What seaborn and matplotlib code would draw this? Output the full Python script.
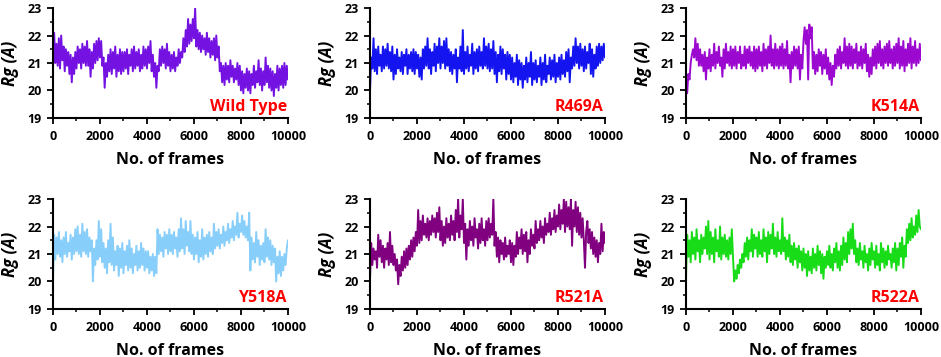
import numpy as np
import pandas as pd
import matplotlib
matplotlib.use("Agg")
import matplotlib.pyplot as plt
from matplotlib.ticker import MultipleLocator
import seaborn as sns

# ---------------- data (Rg values, one every ~50 frames) ----------------
labels = ["Wild Type", "R469A", "K514A", "Y518A", "R521A", "R522A"]
colors = ["#7412E2", "#1414F0", "#9B08D0", "#87CEFA", "#800080", "#18DC18"]

wild_type = [
    20.8, 22.1, 21.0, 21.7, 20.9, 21.9, 20.8, 22.0, 21.1, 21.6, 20.7, 21.5, 20.9, 21.4, 20.6, 21.3, 20.3, 21.2, 20.6, 21.4,
    20.8, 21.6, 21.0, 21.5, 20.8, 21.7, 21.0, 21.6, 20.9, 21.8, 20.9, 21.5, 20.5, 21.4, 20.8, 21.7, 21.0, 21.8, 21.1, 21.9,
    21.2, 21.8, 20.9, 21.2, 20.1, 21.0, 20.5, 21.3, 20.7, 21.5, 20.6, 21.4, 20.8, 21.6, 20.5, 21.3, 20.7, 21.5, 20.6, 21.4,
    20.7, 21.4, 20.8, 21.5, 20.6, 21.3, 20.9, 21.5, 20.7, 21.6, 20.8, 21.4, 20.9, 21.5, 20.7, 21.3, 20.8, 21.6, 20.9, 21.5,
    20.8, 21.6, 21.0, 21.8, 20.7, 21.3, 20.5, 21.0, 20.1, 20.9, 20.7, 21.5, 20.9, 21.6, 21.0, 21.5, 20.8, 21.7, 20.9, 21.4,
    20.7, 21.3, 20.8, 21.4, 20.7, 21.2, 20.9, 21.5, 21.0, 21.4, 21.2, 21.9, 21.4, 22.2, 21.6, 22.6, 21.7, 22.4, 21.8, 22.6,
    21.9, 23.0, 21.6, 22.2, 21.5, 22.1, 21.4, 22.0, 21.5, 21.9, 21.3, 22.1, 21.4, 21.9, 21.2, 21.8, 21.3, 21.9, 21.1, 22.0,
    21.2, 21.6, 20.7, 21.0, 20.3, 20.9, 20.2, 21.0, 20.4, 20.9, 20.3, 21.1, 20.5, 20.9, 20.3, 20.8, 20.4, 21.0, 20.2, 20.9,
    20.0, 20.7, 19.9, 20.6, 20.1, 20.8, 20.0, 20.7, 19.9, 20.6, 20.2, 20.9, 20.1, 20.7, 20.3, 21.1, 20.2, 20.8, 20.0, 20.7,
    20.2, 21.2, 20.3, 20.9, 20.1, 20.8, 20.0, 20.7, 19.8, 20.6, 20.1, 20.9, 20.0, 20.8, 20.2, 20.9, 20.1, 21.0, 20.2, 20.9, 20.4,
]

r469a = [
    20.0, 21.2, 20.8, 21.9, 20.7, 21.5, 20.6, 21.6, 20.9, 21.3, 20.7, 21.6, 20.8, 21.5, 20.9, 21.7, 20.8, 21.4, 20.7, 21.6,
    20.4, 21.3, 20.6, 21.5, 20.8, 21.2, 20.7, 21.4, 20.6, 21.3, 20.9, 21.5, 20.6, 21.3, 20.8, 21.4, 20.7, 21.5, 20.6, 21.4,
    20.8, 21.3, 20.5, 21.2, 20.4, 21.5, 20.8, 21.6, 20.9, 21.9, 20.8, 21.5, 20.6, 21.4, 20.9, 21.7, 20.7, 21.6, 21.0, 21.9,
    20.8, 21.6, 21.0, 21.8, 20.8, 21.9, 20.9, 21.5, 20.7, 21.4, 20.6, 21.3, 20.8, 21.5, 20.3, 21.2, 20.8, 21.6, 20.7, 22.2,
    20.6, 21.4, 20.8, 21.6, 20.7, 21.3, 20.9, 21.7, 20.6, 21.4, 20.8, 21.5, 20.7, 21.6, 20.9, 21.4, 20.8, 21.9, 20.9, 21.6,
    20.8, 21.7, 20.7, 21.5, 20.8, 21.8, 20.6, 21.4, 20.3, 21.3, 20.7, 21.6, 20.6, 21.5, 20.8, 21.3, 20.4, 21.4, 20.6, 21.3,
    20.4, 21.2, 20.3, 21.0, 20.5, 21.3, 20.2, 21.1, 20.4, 21.0, 20.1, 20.9, 20.4, 21.2, 20.3, 21.0, 20.5, 21.4, 20.2, 21.0,
    20.4, 21.1, 20.3, 20.9, 20.5, 21.2, 20.2, 21.0, 20.4, 21.3, 20.3, 20.9, 20.6, 21.2, 20.4, 21.1, 20.5, 21.3, 20.3, 21.0,
    20.5, 21.2, 20.4, 21.3, 20.6, 21.1, 20.5, 21.4, 20.7, 21.5, 20.3, 21.2, 20.8, 21.6, 20.9, 21.9, 21.0, 21.6, 20.8, 21.7,
    20.9, 21.5, 20.7, 21.6, 20.8, 21.4, 21.0, 21.7, 20.6, 21.5, 20.5, 21.3, 20.8, 21.6, 20.9, 21.7, 21.0, 21.6, 21.1, 21.7, 21.2,
]

k514a = [
    20.5, 19.9, 20.6, 20.4, 21.0, 21.3, 21.5, 21.2, 21.9, 21.1, 21.7, 20.9, 21.5, 20.9, 21.3, 20.7, 21.4, 20.4, 21.2, 20.8,
    21.5, 20.7, 21.3, 20.9, 21.7, 20.8, 21.4, 21.0, 21.6, 20.9, 21.2, 20.5, 21.5, 20.8, 21.7, 21.0, 21.4, 20.9, 21.6, 20.8,
    21.5, 20.9, 21.6, 20.8, 21.4, 21.0, 21.6, 20.8, 21.3, 20.9, 21.6, 20.8, 21.5, 21.0, 21.6, 20.9, 21.4, 20.8, 21.6, 20.7,
    21.5, 20.8, 21.6, 20.9, 21.4, 20.7, 21.7, 20.9, 21.5, 20.8, 21.6, 21.0, 22.0, 20.9, 21.5, 20.8, 21.7, 20.9, 21.5, 20.8,
    21.6, 20.9, 21.7, 20.8, 21.5, 20.9, 21.8, 20.8, 21.3, 20.3, 21.4, 20.8, 21.6, 20.9, 21.5, 20.8, 21.6, 20.4, 21.3, 20.8,
    21.8, 22.3, 21.7, 22.2, 20.4, 22.4, 21.9, 22.3, 20.8, 21.4, 20.6, 21.3, 20.7, 21.5, 20.9, 21.4, 20.6, 21.3, 20.8, 21.5,
    20.6, 21.2, 20.4, 21.0, 20.2, 20.9, 20.5, 21.3, 20.8, 21.5, 20.9, 21.6, 20.8, 21.4, 21.0, 21.9, 20.9, 21.6, 20.8, 21.7,
    20.9, 21.6, 20.8, 21.5, 21.0, 21.7, 20.8, 21.4, 20.9, 21.6, 20.8, 21.5, 21.0, 21.7, 20.7, 21.3, 20.5, 21.2, 20.6, 21.5,
    20.9, 21.6, 20.8, 21.7, 21.0, 21.8, 20.9, 21.5, 20.8, 21.6, 21.0, 21.7, 20.9, 21.8, 21.0, 21.5, 20.8, 21.6, 20.9, 21.7,
    21.0, 21.9, 20.8, 21.6, 20.9, 21.8, 20.7, 21.5, 20.9, 21.7, 21.0, 21.9, 20.8, 21.6, 21.0, 21.8, 20.9, 21.5, 21.0, 21.7, 21.1,
]

y518a = [
    20.0, 21.7, 20.8, 21.6, 21.0, 21.8, 20.9, 21.5, 20.7, 21.6, 21.0, 21.8, 20.9, 21.4, 21.1, 21.7, 20.8, 21.6, 21.0, 21.9,
    21.1, 22.0, 21.0, 21.7, 20.9, 22.1, 21.1, 21.8, 21.0, 21.9, 20.9, 21.6, 21.1, 21.5, 20.0, 21.2, 20.6, 21.5, 20.8, 22.2,
    20.9, 21.9, 20.7, 21.4, 20.5, 21.2, 20.3, 21.5, 20.7, 22.1, 20.6, 21.6, 20.4, 21.1, 20.6, 21.3, 20.2, 21.2, 20.5, 21.4,
    20.3, 21.1, 20.6, 21.3, 20.4, 21.5, 20.5, 21.2, 20.3, 21.0, 20.6, 21.3, 20.4, 21.1, 20.5, 21.4, 20.6, 21.2, 20.4, 21.1,
    20.5, 21.1, 20.3, 20.9, 20.4, 21.0, 20.2, 20.9, 20.3, 21.9, 21.0, 21.7, 21.1, 21.6, 20.9, 21.8, 21.2, 21.7, 21.0, 21.9,
    21.1, 21.7, 21.0, 21.8, 21.2, 21.6, 20.9, 21.9, 21.1, 22.3, 21.2, 21.9, 21.0, 22.2, 21.3, 21.8, 21.1, 22.2, 21.0, 21.7,
    20.8, 21.6, 21.0, 21.8, 20.7, 21.5, 20.9, 21.9, 20.8, 21.6, 21.0, 21.7, 20.9, 21.8, 21.1, 21.6, 21.0, 22.1, 21.2, 21.8,
    21.3, 21.9, 21.2, 21.7, 21.4, 22.0, 21.3, 21.8, 21.5, 22.1, 21.4, 21.9, 21.6, 22.2, 21.5, 22.0, 21.7, 22.5, 21.6, 22.1,
    21.8, 22.4, 21.7, 22.2, 21.6, 22.0, 21.5, 22.5, 20.4, 21.6, 20.8, 21.4, 20.7, 21.8, 20.9, 21.5, 20.6, 21.3, 20.8, 21.4,
    20.7, 21.9, 20.9, 21.6, 20.8, 21.5, 20.6, 21.3, 20.7, 21.2, 20.0, 20.9, 20.3, 21.1, 20.2, 20.9, 20.4, 21.0, 20.6, 21.2, 21.5,
]

r521a = [
    20.1, 21.4, 20.6, 21.2, 20.8, 21.1, 20.5, 21.7, 20.9, 21.5, 20.7, 21.3, 20.5, 21.2, 20.8, 21.4, 20.6, 21.8, 20.7, 21.3,
    20.6, 21.0, 20.4, 20.8, 19.9, 20.6, 20.2, 20.9, 20.4, 21.1, 20.5, 21.2, 20.6, 21.3, 20.8, 21.5, 20.9, 21.6, 21.1, 21.8,
    21.3, 22.6, 21.4, 22.2, 21.5, 22.4, 21.7, 22.1, 21.6, 22.3, 21.5, 22.2, 21.7, 22.4, 21.8, 22.3, 21.6, 22.5, 21.8, 22.7,
    21.5, 22.2, 21.3, 22.0, 21.4, 22.3, 21.6, 22.1, 21.5, 22.4, 21.7, 22.2, 21.5, 22.6, 21.8, 23.0, 21.6, 22.4, 21.9, 23.0,
    21.4, 22.1, 20.8, 21.9, 21.3, 22.2, 21.5, 22.0, 21.3, 22.3, 21.6, 21.9, 21.2, 22.1, 21.4, 22.3, 21.5, 21.9, 21.3, 22.2,
    21.5, 22.3, 21.6, 22.1, 21.7, 23.0, 21.3, 21.8, 20.9, 21.6, 20.7, 21.5, 21.0, 21.4, 20.8, 21.6, 20.9, 21.3, 21.0, 21.5,
    20.7, 21.4, 20.6, 21.3, 20.9, 21.8, 21.0, 21.6, 21.2, 21.9, 21.0, 21.7, 21.1, 21.8, 20.7, 21.5, 21.0, 21.9, 21.3, 21.7,
    21.2, 22.2, 21.4, 21.9, 21.5, 22.2, 21.6, 22.0, 21.4, 22.3, 21.7, 22.1, 21.8, 22.5, 21.7, 22.3, 21.9, 22.6, 21.8, 22.4,
    22.0, 22.8, 21.9, 22.6, 22.1, 23.0, 21.8, 22.9, 22.0, 22.7, 21.9, 23.0, 21.3, 22.6, 22.0, 22.9, 21.8, 22.7, 21.7, 22.5,
    21.6, 22.3, 21.5, 20.5, 21.8, 22.2, 21.4, 21.9, 21.2, 21.8, 21.0, 21.6, 20.9, 21.5, 20.7, 21.4, 21.0, 22.1, 21.1, 21.8, 21.4,
]

r522a = [
    20.1, 21.7, 20.9, 21.5, 20.7, 21.8, 21.0, 21.6, 20.8, 21.9, 21.1, 21.5, 20.7, 21.7, 21.0, 21.6, 21.2, 22.0, 21.0, 22.2,
    20.8, 21.8, 21.0, 21.6, 20.7, 21.9, 21.1, 21.5, 20.9, 22.0, 20.8, 21.6, 21.0, 21.7, 20.9, 21.5, 20.8, 21.6, 21.0, 21.9,
    20.9, 20.0, 20.4, 20.1, 20.6, 20.3, 20.8, 20.5, 21.0, 20.7, 21.4, 20.9, 21.6, 20.8, 21.5, 21.1, 21.9, 20.9, 21.7, 21.2,
    21.6, 20.9, 21.8, 21.0, 21.5, 20.9, 21.9, 21.1, 21.6, 20.7, 21.8, 21.0, 21.7, 21.2, 22.1, 21.0, 21.6, 20.9, 21.8, 21.1,
    21.5, 21.0, 22.3, 21.1, 21.6, 20.8, 21.5, 20.9, 21.7, 20.7, 21.3, 20.6, 21.4, 20.8, 21.2, 20.5, 21.3, 20.7, 21.1, 20.4,
    21.2, 20.5, 21.0, 20.2, 21.1, 20.4, 20.9, 20.3, 21.2, 20.5, 21.0, 20.4, 21.3, 20.6, 21.1, 20.3, 21.0, 20.1, 20.9, 20.5,
    21.1, 20.6, 21.3, 20.5, 21.0, 20.4, 21.2, 20.7, 21.4, 20.5, 21.1, 20.4, 21.3, 20.6, 21.6, 20.8, 21.4, 20.7, 21.8, 21.0,
    21.9, 21.2, 22.1, 21.0, 21.5, 20.7, 21.2, 20.6, 21.4, 20.8, 21.1, 20.5, 21.3, 20.7, 21.0, 20.4, 21.2, 20.6, 21.4, 20.8,
    21.1, 20.5, 21.3, 20.6, 21.0, 20.4, 21.4, 20.7, 21.2, 20.5, 21.1, 20.6, 21.3, 20.8, 21.0, 20.5, 21.2, 20.7, 21.4, 20.4,
    21.2, 20.6, 21.4, 20.9, 21.6, 20.5, 21.3, 20.9, 21.9, 21.4, 22.1, 21.5, 22.3, 21.6, 22.0, 21.7, 22.4, 21.8, 22.6, 22.0, 21.9,
]

series = [wild_type, r469a, k514a, y518a, r521a, r522a]
x_ticks = [0, 2000, 4000, 6000, 8000, 10000]
y_ticks = [19, 20, 21, 22, 23]
x_label = "No. of frames"
y_label = "Rg (A)"

# ---------------- styling ----------------
sns.set_style("ticks")
plt.rcParams["font.family"] = ["Open Sans", "DejaVu Sans"]
plt.rcParams["font.weight"] = "bold"
plt.rcParams["text.color"] = "black"
plt.rcParams["axes.labelcolor"] = "black"
plt.rcParams["xtick.color"] = "black"
plt.rcParams["ytick.color"] = "black"

fig = plt.figure(figsize=(9.41, 3.57), dpi=100)

lefts = [0.0563, 0.3932, 0.7290]
bottoms = [0.6695, 0.1345]
w, h = 0.2497, 0.308

for i, (lab, col, vals) in enumerate(zip(labels, colors, series)):
    r, c = divmod(i, 3)
    ax = fig.add_axes([lefts[c], bottoms[r], w, h])
    frames = np.linspace(0, 10000, len(vals))
    df = pd.DataFrame({"frame": frames, "rg": vals})
    sns.lineplot(data=df, x="frame", y="rg", ax=ax, color=col, linewidth=1.4,
                 estimator=None, sort=False)
    ax.set_xlim(0, 10000)
    ax.set_ylim(19, 23)
    ax.set_xticks(x_ticks)
    ax.set_yticks(y_ticks)
    ax.xaxis.set_minor_locator(MultipleLocator(1000))
    ax.yaxis.set_minor_locator(MultipleLocator(0.5))
    sns.despine(ax=ax)
    for s in ("left", "bottom"):
        ax.spines[s].set_linewidth(1.5)
        ax.spines[s].set_color("black")
    ax.tick_params(which="major", direction="out", length=4, width=1.3,
                   labelsize=9, colors="black")
    ax.tick_params(axis="x", which="major", pad=5)
    ax.tick_params(axis="y", which="major", pad=4)
    ax.tick_params(which="minor", direction="out", length=2.5, width=1.1, colors="black")
    for t in ax.get_xticklabels() + ax.get_yticklabels():
        t.set_fontweight("bold")
        t.set_color("black")
    ax.set_xlabel(x_label, fontsize=11.5, fontweight="bold", labelpad=6, color="black")
    ax.set_ylabel(y_label, fontsize=12, fontweight="bold", style="italic", labelpad=6,
                  color="black")
    ax.text(0.995, 0.1, lab, transform=ax.transAxes, ha="right", va="center",
            color="#FF0000", fontsize=11.5, fontweight="bold")
    ax.grid(False)

fig.savefig("out.png", dpi=100)
